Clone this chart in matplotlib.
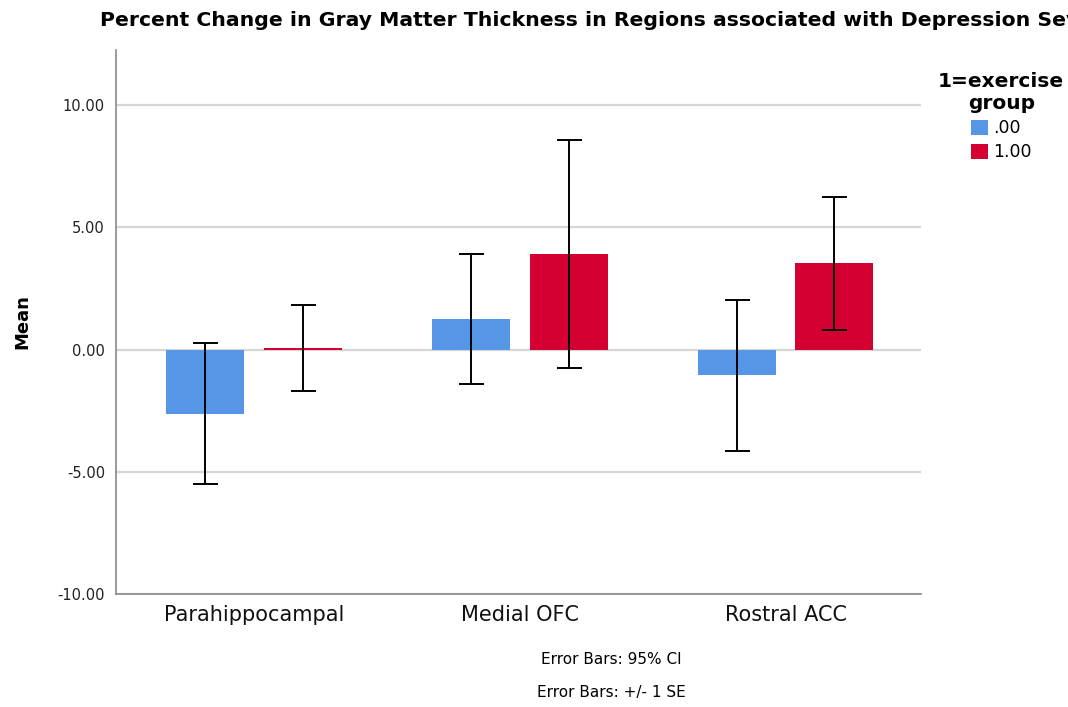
import matplotlib
matplotlib.use("Agg")
import matplotlib.pyplot as plt
import numpy as np

categories = ["Parahippocampal", "Medial OFC", "Rostral ACC"]
group_labels = [".00", "1.00"]
means_0 = [-2.62, 1.24, -1.06]
means_1 = [0.05, 3.90, 3.52]
err_0 = [2.88, 2.66, 3.10]
err_1 = [1.76, 4.67, 2.71]
yticks = [-10, -5, 0, 5, 10]

colors = ["#5597E6", "#D50032"]

fig = plt.figure(figsize=(10.68, 7.07), dpi=100)
ax = fig.add_axes([116/1068, 1 - 594/707, (921-116)/1068, (594-50)/707])

x = np.arange(len(categories))
w = 0.293
off = 0.184
for i, (m, e) in enumerate([(means_0, err_0), (means_1, err_1)]):
    pos = x + (-off if i == 0 else off)
    ax.bar(pos, m, width=w, color=colors[i], label=group_labels[i], zorder=2)
    ax.errorbar(pos, m, yerr=e, fmt="none", ecolor="black", elinewidth=1.4,
                capsize=9, capthick=1.4, zorder=3)

ax.set_xlim(-0.52, 2.51)
ax.set_ylim(-10, 12.25)
ax.set_yticks(yticks)
ax.set_yticklabels([f"{v:.2f}" for v in yticks], fontsize=10.5, color="#222222")
ax.set_xticks(x)
ax.set_xticklabels(categories, fontsize=15, color="#111111")
ax.tick_params(axis="both", length=0)
ax.tick_params(axis="y", pad=8)
ax.tick_params(axis="x", pad=8)
ax.yaxis.grid(True, color="#D6D6D6", linewidth=1.6, zorder=0)
ax.set_axisbelow(True)
for s in ["top", "right"]:
    ax.spines[s].set_visible(False)
for s in ["left", "bottom"]:
    ax.spines[s].set_color("#8A8A8A")
    ax.spines[s].set_linewidth(1.2)

fig.text(22/1068, 1 - 322/707, "Mean", rotation=90, fontsize=13, fontweight="bold",
         ha="center", va="center")

fig.text(100/1068, 1 - 20/707,
         "Percent Change in Gray Matter Thickness in Regions associated with Depression Severity",
         fontsize=14.7, fontweight="bold", ha="left", va="center")

leg = ax.legend(title="1=exercise\ngroup", loc="upper left",
                bbox_to_anchor=(926/1068, 1 - 60/707), bbox_transform=fig.transFigure,
                frameon=False, fontsize=12.5, title_fontproperties={"weight": "bold", "size": 14.5},
                handlelength=1.0, handleheight=1.0, handletextpad=0.3, labelspacing=0.35,
                alignment="center", borderpad=0.2)
leg.get_title().set_multialignment("center")

fig.text(611/1068, 1 - 659/707, "Error Bars: 95% CI", fontsize=11, ha="center", va="center")
fig.text(611/1068, 1 - 693/707, "Error Bars: +/- 1 SE", fontsize=11, ha="center", va="center")

fig.savefig("out.png", dpi=100)
